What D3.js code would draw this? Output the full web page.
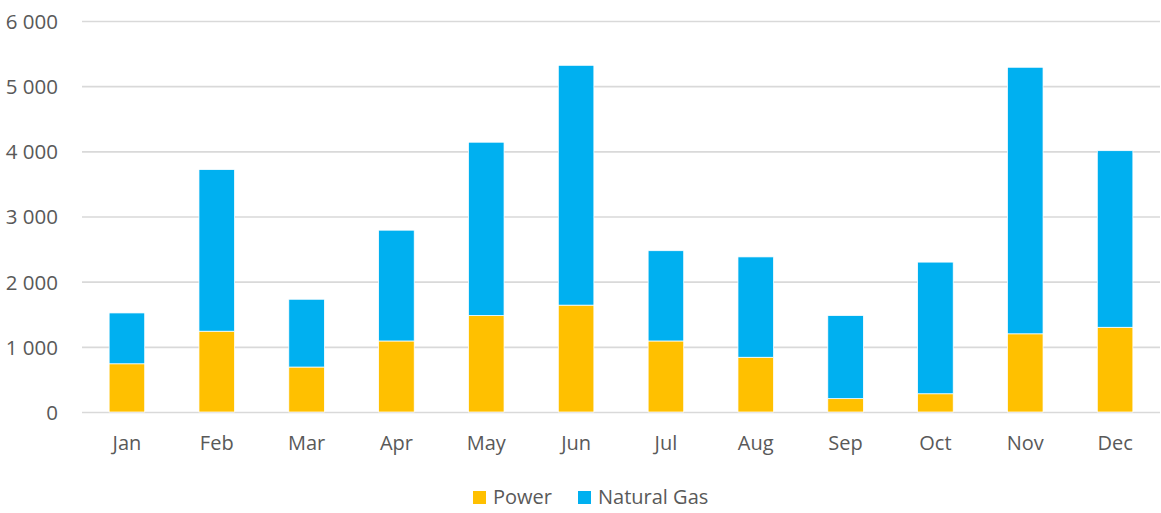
<!DOCTYPE html>
<html>
<head>
<meta charset="utf-8">
<script src="https://cdn.jsdelivr.net/npm/d3@7"></script>
<style>
  body { margin: 0; background: #fff; }
  text { font-family: "Open Sans", sans-serif; fill: #595959; }
</style>
</head>
<body>
<script>
// values
const months = ["Jan", "Feb", "Mar", "Apr", "May", "Jun", "Jul", "Aug", "Sep", "Oct", "Nov", "Dec"];
const power = [740, 1240, 690, 1090, 1480, 1640, 1090, 840, 205, 280, 1200, 1300];
const naturalGas = [780, 2480, 1040, 1700, 2660, 3680, 1385, 1540, 1275, 2020, 4090, 2710];
const yTicks = [0, 1000, 2000, 3000, 4000, 5000, 6000];
const seriesNames = ["Power", "Natural Gas"];
const colors = ["#FFC000", "#00B0F0"];

const width = 1161, height = 513;
const margin = { top: 21, right: 1, bottom: 101, left: 82 };

const svg = d3.select("body").append("svg")
    .attr("width", width)
    .attr("height", height);

const x = d3.scaleBand()
    .domain(months)
    .range([margin.left, width - margin.right])
    .paddingInner(0.604)
    .paddingOuter(0.302);

const y = d3.scaleLinear()
    .domain([0, 6000])
    .range([height - margin.bottom, margin.top]);

const fmt = d => d3.format(",")(d).replace(/,/g, " ");

// grid lines + y labels
const yAxis = svg.append("g")
    .attr("transform", `translate(${margin.left},0)`)
    .call(d3.axisLeft(y).tickValues(yTicks).tickFormat(fmt)
        .tickSize(-(width - margin.left - margin.right)).tickPadding(24));
yAxis.select(".domain").remove();
yAxis.selectAll("line").attr("stroke", "#d9d9d9").attr("stroke-width", 1.6);
yAxis.selectAll("text")
    .style("font-size", "20.5px")
    .attr("fill", "#595959")
    .attr("dy", "0.36em");

// stacked bars
const rows = months.map((m, i) => ({ month: m, Power: power[i], "Natural Gas": naturalGas[i] }));
const stacked = d3.stack().keys(seriesNames)(rows);

svg.append("g")
    .selectAll("g")
    .data(stacked)
    .join("g")
    .attr("fill", (d, i) => colors[i])
    .selectAll("rect")
    .data(d => d)
    .join("rect")
    .attr("x", d => x(d.data.month))
    .attr("width", x.bandwidth())
    .attr("y", d => y(d[1]))
    .attr("height", d => y(d[0]) - y(d[1]))
    .attr("stroke", "#fff")
    .attr("stroke-width", 0.75);

// x labels
const xAxis = svg.append("g")
    .attr("transform", `translate(0,${height - margin.bottom})`)
    .call(d3.axisBottom(x).tickSize(0).tickPadding(24));
xAxis.select(".domain").remove();
xAxis.selectAll("text")
    .style("font-size", "20px")
    .attr("fill", "#595959");

// legend
const legend = svg.append("g").attr("transform", "translate(473,504)");
const legendX = [0, 105];
seriesNames.forEach((name, i) => {
    const g = legend.append("g").attr("transform", `translate(${legendX[i]},0)`);
    g.append("rect")
        .attr("x", 0).attr("y", -13)
        .attr("width", 13).attr("height", 13)
        .attr("fill", colors[i]);
    g.append("text")
        .attr("x", 20).attr("y", 0)
        .style("font-size", "20px")
        .text(name);
});
</script>
</body>
</html>
